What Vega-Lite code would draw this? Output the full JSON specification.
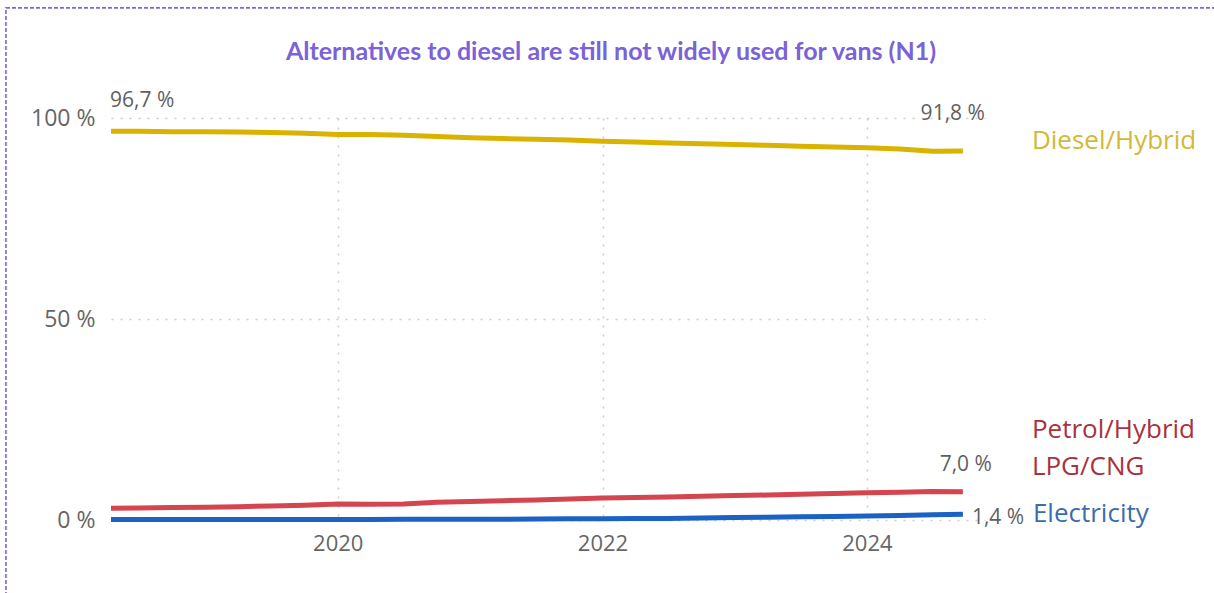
{
  "$schema": "https://vega.github.io/schema/vega-lite/v6.json",
  "width": 874,
  "height": 402,
  "autosize": "none",
  "padding": {"left": 111, "top": 118, "right": 229, "bottom": 73},
  "background": "white",
  "title": {
    "text": "Alternatives to diesel are still not widely used for vans (N1)",
    "anchor": "middle",
    "dx": 63,
    "offset": 0,
    "dy": 78,
    "baseline": "alphabetic",
    "font": "Lato",
    "fontSize": 25,
    "fontWeight": "bold",
    "color": "#7B62D7"
  },
  "datasets": {
    "lines": [
      {"series": "Diesel/Hybrid", "date": "2018-04-15", "value": 96.7},
      {"series": "Diesel/Hybrid", "date": "2018-07-01", "value": 96.7},
      {"series": "Diesel/Hybrid", "date": "2018-10-01", "value": 96.6},
      {"series": "Diesel/Hybrid", "date": "2019-01-01", "value": 96.6},
      {"series": "Diesel/Hybrid", "date": "2019-04-01", "value": 96.5},
      {"series": "Diesel/Hybrid", "date": "2019-07-01", "value": 96.4},
      {"series": "Diesel/Hybrid", "date": "2019-10-01", "value": 96.2},
      {"series": "Diesel/Hybrid", "date": "2020-01-01", "value": 95.9},
      {"series": "Diesel/Hybrid", "date": "2020-04-01", "value": 95.9},
      {"series": "Diesel/Hybrid", "date": "2020-07-01", "value": 95.7},
      {"series": "Diesel/Hybrid", "date": "2020-10-01", "value": 95.4},
      {"series": "Diesel/Hybrid", "date": "2021-01-01", "value": 95.1},
      {"series": "Diesel/Hybrid", "date": "2021-04-01", "value": 94.9},
      {"series": "Diesel/Hybrid", "date": "2021-07-01", "value": 94.7},
      {"series": "Diesel/Hybrid", "date": "2021-10-01", "value": 94.5},
      {"series": "Diesel/Hybrid", "date": "2022-01-01", "value": 94.2},
      {"series": "Diesel/Hybrid", "date": "2022-04-01", "value": 94.0},
      {"series": "Diesel/Hybrid", "date": "2022-07-01", "value": 93.8},
      {"series": "Diesel/Hybrid", "date": "2022-10-01", "value": 93.6},
      {"series": "Diesel/Hybrid", "date": "2023-01-01", "value": 93.4},
      {"series": "Diesel/Hybrid", "date": "2023-04-01", "value": 93.2},
      {"series": "Diesel/Hybrid", "date": "2023-07-01", "value": 93.0},
      {"series": "Diesel/Hybrid", "date": "2023-10-01", "value": 92.8},
      {"series": "Diesel/Hybrid", "date": "2024-01-01", "value": 92.6},
      {"series": "Diesel/Hybrid", "date": "2024-04-01", "value": 92.3},
      {"series": "Diesel/Hybrid", "date": "2024-07-01", "value": 91.7},
      {"series": "Diesel/Hybrid", "date": "2024-09-22", "value": 91.8},
      {"series": "Petrol/Hybrid LPG/CNG", "date": "2018-04-15", "value": 2.9},
      {"series": "Petrol/Hybrid LPG/CNG", "date": "2018-07-01", "value": 3.0},
      {"series": "Petrol/Hybrid LPG/CNG", "date": "2018-10-01", "value": 3.1},
      {"series": "Petrol/Hybrid LPG/CNG", "date": "2019-01-01", "value": 3.2},
      {"series": "Petrol/Hybrid LPG/CNG", "date": "2019-04-01", "value": 3.3},
      {"series": "Petrol/Hybrid LPG/CNG", "date": "2019-07-01", "value": 3.5},
      {"series": "Petrol/Hybrid LPG/CNG", "date": "2019-10-01", "value": 3.7},
      {"series": "Petrol/Hybrid LPG/CNG", "date": "2020-01-01", "value": 4.0},
      {"series": "Petrol/Hybrid LPG/CNG", "date": "2020-04-01", "value": 3.9},
      {"series": "Petrol/Hybrid LPG/CNG", "date": "2020-07-01", "value": 4.0},
      {"series": "Petrol/Hybrid LPG/CNG", "date": "2020-10-01", "value": 4.4},
      {"series": "Petrol/Hybrid LPG/CNG", "date": "2021-01-01", "value": 4.6},
      {"series": "Petrol/Hybrid LPG/CNG", "date": "2021-04-01", "value": 4.8},
      {"series": "Petrol/Hybrid LPG/CNG", "date": "2021-07-01", "value": 5.0},
      {"series": "Petrol/Hybrid LPG/CNG", "date": "2021-10-01", "value": 5.2},
      {"series": "Petrol/Hybrid LPG/CNG", "date": "2022-01-01", "value": 5.5},
      {"series": "Petrol/Hybrid LPG/CNG", "date": "2022-04-01", "value": 5.6},
      {"series": "Petrol/Hybrid LPG/CNG", "date": "2022-07-01", "value": 5.7},
      {"series": "Petrol/Hybrid LPG/CNG", "date": "2022-10-01", "value": 5.9},
      {"series": "Petrol/Hybrid LPG/CNG", "date": "2023-01-01", "value": 6.1},
      {"series": "Petrol/Hybrid LPG/CNG", "date": "2023-04-01", "value": 6.2},
      {"series": "Petrol/Hybrid LPG/CNG", "date": "2023-07-01", "value": 6.4},
      {"series": "Petrol/Hybrid LPG/CNG", "date": "2023-10-01", "value": 6.6},
      {"series": "Petrol/Hybrid LPG/CNG", "date": "2024-01-01", "value": 6.8},
      {"series": "Petrol/Hybrid LPG/CNG", "date": "2024-04-01", "value": 6.9},
      {"series": "Petrol/Hybrid LPG/CNG", "date": "2024-07-01", "value": 7.1},
      {"series": "Petrol/Hybrid LPG/CNG", "date": "2024-09-22", "value": 7.0},
      {"series": "Electricity", "date": "2018-04-15", "value": 0.1},
      {"series": "Electricity", "date": "2018-07-01", "value": 0.1},
      {"series": "Electricity", "date": "2018-10-01", "value": 0.1},
      {"series": "Electricity", "date": "2019-01-01", "value": 0.1},
      {"series": "Electricity", "date": "2019-04-01", "value": 0.1},
      {"series": "Electricity", "date": "2019-07-01", "value": 0.1},
      {"series": "Electricity", "date": "2019-10-01", "value": 0.1},
      {"series": "Electricity", "date": "2020-01-01", "value": 0.1},
      {"series": "Electricity", "date": "2020-04-01", "value": 0.15},
      {"series": "Electricity", "date": "2020-07-01", "value": 0.2},
      {"series": "Electricity", "date": "2020-10-01", "value": 0.2},
      {"series": "Electricity", "date": "2021-01-01", "value": 0.2},
      {"series": "Electricity", "date": "2021-04-01", "value": 0.2},
      {"series": "Electricity", "date": "2021-07-01", "value": 0.25},
      {"series": "Electricity", "date": "2021-10-01", "value": 0.3},
      {"series": "Electricity", "date": "2022-01-01", "value": 0.3},
      {"series": "Electricity", "date": "2022-04-01", "value": 0.35},
      {"series": "Electricity", "date": "2022-07-01", "value": 0.4},
      {"series": "Electricity", "date": "2022-10-01", "value": 0.5},
      {"series": "Electricity", "date": "2023-01-01", "value": 0.6},
      {"series": "Electricity", "date": "2023-04-01", "value": 0.7},
      {"series": "Electricity", "date": "2023-07-01", "value": 0.8},
      {"series": "Electricity", "date": "2023-10-01", "value": 0.9},
      {"series": "Electricity", "date": "2024-01-01", "value": 1.0},
      {"series": "Electricity", "date": "2024-04-01", "value": 1.1},
      {"series": "Electricity", "date": "2024-07-01", "value": 1.3},
      {"series": "Electricity", "date": "2024-09-22", "value": 1.4}
    ],
    "valueLabels": [
      {"series": "Diesel/Hybrid", "date": "2018-04-15", "value": 96.7, "label": "96,7 %", "kind": "start"},
      {"series": "Diesel/Hybrid", "date": "2024-09-22", "value": 91.8, "label": "91,8 %", "kind": "endTop"},
      {"series": "Petrol/Hybrid LPG/CNG", "date": "2024-09-22", "value": 7.0, "label": "7,0 %", "kind": "endMid"},
      {"series": "Electricity", "date": "2024-09-22", "value": 1.4, "label": "1,4 %", "kind": "endRight"}
    ],
    "names": [
      {"series": "Diesel/Hybrid", "name": "Diesel/Hybrid", "date": "2024-09-22", "value": 91.8},
      {"series": "Petrol/Hybrid LPG/CNG", "name": "Petrol/Hybrid\nLPG/CNG", "date": "2024-09-22", "value": 7.0},
      {"series": "Electricity", "name": "Electricity", "date": "2024-09-22", "value": 1.4}
    ]
  },
  "layer": [
    {
      "data": {"name": "lines"},
      "mark": {"type": "line", "strokeWidth": 5, "strokeCap": "butt", "strokeJoin": "round"},
      "encoding": {
        "x": {
          "field": "date", "type": "temporal", "title": null,
          "scale": {"domain": [{"year": 2018, "month": 4, "date": 15}, {"year": 2024, "month": 11, "date": 22}]},
          "axis": {
            "values": [{"year": 2020, "month": 1, "date": 1}, {"year": 2022, "month": 1, "date": 1}, {"year": 2024, "month": 1, "date": 1}],
            "format": "%Y", "grid": true, "gridDash": [2, 7], "gridColor": "#cccccc", "gridWidth": 1.5,
            "domain": false, "ticks": false, "labelFontSize": 22, "labelColor": "#666666", "labelFont": "Open Sans", "labelPadding": 13
          }
        },
        "y": {
          "field": "value", "type": "quantitative", "title": null,
          "scale": {"domain": [0, 100], "nice": false, "zero": true},
          "axis": {
            "values": [0, 50, 100], "labelExpr": "datum.value + ' %'", "grid": true, "gridDash": [2, 7], "gridColor": "#cccccc", "gridWidth": 1.5,
            "domain": false, "ticks": false, "labelFontSize": 23, "labelColor": "#666666", "labelFont": "Open Sans", "labelPadding": 16
          }
        },
        "color": {
          "field": "series", "type": "nominal", "legend": null,
          "scale": {"domain": ["Diesel/Hybrid", "Petrol/Hybrid LPG/CNG", "Electricity"], "range": ["#D9B300", "#D4454F", "#1B62C4"]}
        }
      }
    },
    {
      "data": {"name": "valueLabels"},
      "transform": [{"filter": "datum.kind === 'start'"}],
      "mark": {"type": "text", "align": "left", "baseline": "middle", "dx": -1, "dy": -30, "fontSize": 21, "font": "Open Sans", "color": "#5f5f5f"},
      "encoding": {
        "x": {"field": "date", "type": "temporal", "title": null},
        "y": {"field": "value", "type": "quantitative", "title": null},
        "text": {"field": "label"}
      }
    },
    {
      "data": {"name": "valueLabels"},
      "transform": [{"filter": "datum.kind === 'endTop'"}],
      "mark": {"type": "text", "align": "right", "baseline": "middle", "dx": 22, "dy": -37, "fontSize": 21, "font": "Open Sans", "color": "#5f5f5f"},
      "encoding": {
        "x": {"field": "date", "type": "temporal", "title": null},
        "y": {"field": "value", "type": "quantitative", "title": null},
        "text": {"field": "label"}
      }
    },
    {
      "data": {"name": "valueLabels"},
      "transform": [{"filter": "datum.kind === 'endMid'"}],
      "mark": {"type": "text", "align": "right", "baseline": "middle", "dx": 29, "dy": -27, "fontSize": 21, "font": "Open Sans", "color": "#5f5f5f"},
      "encoding": {
        "x": {"field": "date", "type": "temporal", "title": null},
        "y": {"field": "value", "type": "quantitative", "title": null},
        "text": {"field": "label"}
      }
    },
    {
      "data": {"name": "valueLabels"},
      "transform": [{"filter": "datum.kind === 'endRight'"}],
      "mark": {"type": "text", "align": "left", "baseline": "middle", "dx": 9, "dy": 4, "fontSize": 21, "font": "Open Sans", "color": "#5f5f5f"},
      "encoding": {
        "x": {"field": "date", "type": "temporal", "title": null},
        "y": {"field": "value", "type": "quantitative", "title": null},
        "text": {"field": "label"}
      }
    },
    {
      "data": {"name": "names"},
      "transform": [{"filter": "datum.series === 'Diesel/Hybrid'"}],
      "mark": {"type": "text", "align": "left", "baseline": "middle", "dx": 69, "dy": -10, "fontSize": 26, "font": "Open Sans", "color": "#D2B935"},
      "encoding": {
        "x": {"field": "date", "type": "temporal", "title": null},
        "y": {"field": "value", "type": "quantitative", "title": null},
        "text": {"field": "name"}
      }
    },
    {
      "data": {"name": "names"},
      "transform": [{"filter": "datum.series === 'Petrol/Hybrid LPG/CNG'"}],
      "mark": {"type": "text", "align": "left", "baseline": "middle", "dx": 69, "dy": -62, "fontSize": 26, "font": "Open Sans", "color": "#A8323F", "lineBreak": "\n", "lineHeight": 37},
      "encoding": {
        "x": {"field": "date", "type": "temporal", "title": null},
        "y": {"field": "value", "type": "quantitative", "title": null},
        "text": {"field": "name"}
      }
    },
    {
      "data": {"name": "names"},
      "transform": [{"filter": "datum.series === 'Electricity'"}],
      "mark": {"type": "text", "align": "left", "baseline": "middle", "dx": 70, "dy": 0, "fontSize": 26, "font": "Open Sans", "color": "#3A6DB0"},
      "encoding": {
        "x": {"field": "date", "type": "temporal", "title": null},
        "y": {"field": "value", "type": "quantitative", "title": null},
        "text": {"field": "name"}
      }
    },
    {
      "data": {"values": [{}]},
      "mark": {"type": "rect", "filled": false, "color": "#8263DC", "strokeWidth": 1.6, "strokeDash": [4, 2]},
      "encoding": {
        "x": {"datum": {"year": 2017, "month": 6, "date": 29}, "type": "temporal", "title": null},
        "x2": {"datum": {"year": 2026, "month": 9, "date": 17}},
        "y": {"datum": 127.4, "type": "quantitative", "title": null},
        "y2": {"datum": -20}
      }
    }
  ],
  "config": {
    "view": {"stroke": null},
    "font": "Open Sans"
  }
}
